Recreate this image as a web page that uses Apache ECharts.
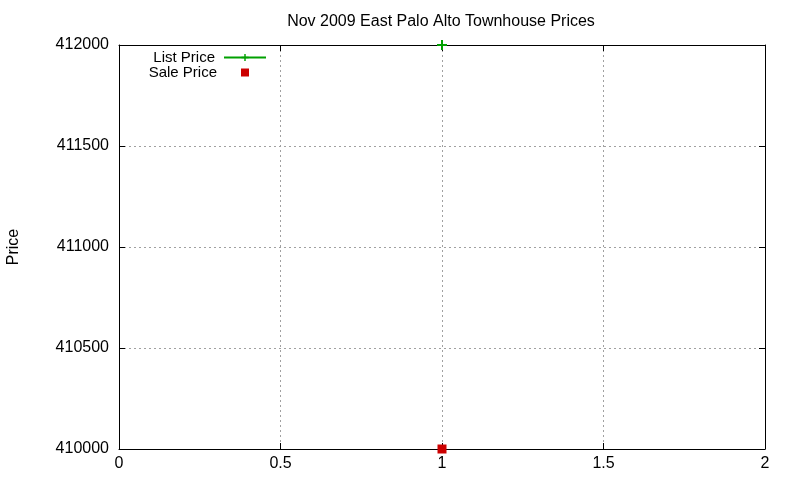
<!DOCTYPE html>
<html>
<head>
<meta charset="utf-8">
<script src="https://cdn.jsdelivr.net/npm/echarts@6/dist/echarts.min.js"></script>
<style>
  html, body { margin: 0; padding: 0; background: #fff; }
  #chart { width: 800px; height: 480px; }
</style>
</head>
<body>
<div id="chart"></div>
<script>
var titleText = 'Nov 2009 East Palo Alto Townhouse Prices';
var listPrice = [[1, 412000]];
var salePrice = [[1, 410000]];
var xMin = 0, xMax = 2, xStep = 0.5;
var yMin = 410000, yMax = 412000, yStep = 500;

var font = "'Liberation Sans', Arial, sans-serif";
var plusPath = 'path://M4,0h2v4h4v2h-4v4h-2v-4h-4v-2h4z';

var dom = document.getElementById('chart');
var myChart = echarts.init(dom, null, { renderer: 'canvas' });

// gnuplot style: black frame, ticks pointing into the plot on all four sides
function frameAxis(extra) {
    return Object.assign({
        type: 'value',
        axisLine: { show: true, onZero: false, lineStyle: { color: '#000', width: 1 } },
        axisTick: { show: true, inside: true, length: 6, lineStyle: { color: '#000', width: 1 } },
        axisLabel: { show: false },
        splitLine: { show: false }
    }, extra);
}

var gridLine = { show: true, lineStyle: { color: '#a0a0a0', type: [2, 3] } };

var option = {
    backgroundColor: '#fff',
    animation: false,
    title: {
        text: titleText,
        left: 436,
        top: 9,
        textAlign: 'center',
        textStyle: { fontFamily: font, fontSize: 16, fontWeight: 'normal', color: '#000' }
    },
    legend: [{
        data: ['List Price'],
        orient: 'vertical',
        align: 'right',
        right: 528,
        top: 45,
        itemWidth: 42,
        itemHeight: 9,
        textStyle: { fontFamily: font, fontSize: 15, color: '#000', padding: [0, 4, 0, 0] }
    }, {
        data: [{ name: 'Sale Price', icon: 'rect' }],
        orient: 'vertical',
        align: 'right',
        right: 546,
        top: 60,
        itemWidth: 8,
        itemHeight: 8,
        textStyle: { fontFamily: font, fontSize: 15, color: '#000', padding: [0, 19, 0, 0] }
    }],
    grid: { left: 119, right: 35, top: 45, bottom: 31, outerBoundsMode: 'none' },
    xAxis: [frameAxis({
        min: xMin, max: xMax, interval: xStep,
        axisLabel: { fontFamily: font, fontSize: 16, color: '#000', margin: 7 },
        splitLine: gridLine
    }), frameAxis({
        position: 'top',
        min: xMin, max: xMax, interval: xStep
    })],
    yAxis: [frameAxis({
        min: yMin, max: yMax, interval: yStep,
        name: 'Price',
        nameLocation: 'middle',
        nameGap: 97,
        nameTextStyle: { fontFamily: font, fontSize: 16, color: '#000' },
        axisLabel: {
            fontFamily: font, fontSize: 16, color: '#000', margin: 10,
            formatter: function (v) { return String(v); }
        },
        splitLine: gridLine
    }), frameAxis({
        position: 'right',
        min: yMin, max: yMax, interval: yStep
    })],
    series: [{
        name: 'List Price',
        type: 'line',
        data: listPrice,
        symbol: plusPath,
        symbolSize: 10,
        showAllSymbol: true,
        clip: false,
        itemStyle: { color: '#00a000' },
        lineStyle: { color: '#00a000', width: 2 }
    }, {
        name: 'Sale Price',
        type: 'scatter',
        data: salePrice,
        symbol: 'rect',
        symbolSize: 9,
        clip: false,
        itemStyle: { color: '#cc0000', opacity: 1 }
    }]
};

if (option && typeof option === 'object') {
    myChart.setOption(option);
}

window.addEventListener('resize', myChart.resize);
</script>
</body>
</html>
